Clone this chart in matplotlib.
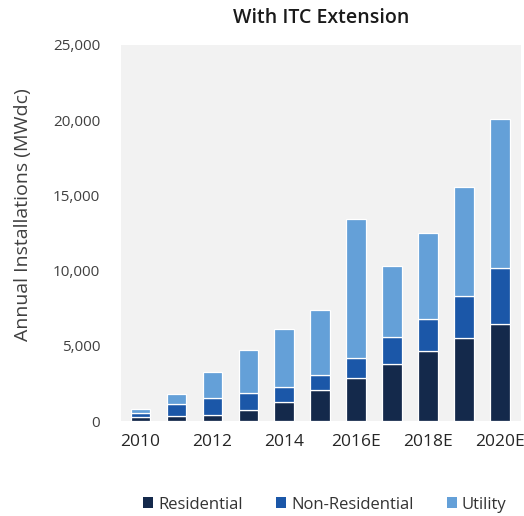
import matplotlib
matplotlib.use("Agg")
import matplotlib.pyplot as plt
from matplotlib.patches import Patch
from matplotlib.ticker import FuncFormatter
import numpy as np

years = ["2010", "2011", "2012", "2013", "2014", "2015",
         "2016E", "2017E", "2018E", "2019E", "2020E"]
residential = [290, 330, 400, 730, 1240, 2050, 2870, 3820, 4640, 5540, 6470]
non_residential = [260, 800, 1150, 1150, 1030, 1040, 1320, 1760, 2160, 2800, 3680]
utility = [250, 700, 1720, 2820, 3870, 4260, 9230, 4750, 5690, 7240, 9940]
series_names = ["Residential", "Non-Residential", "Utility"]
series_colors = ["#14294b", "#1b57a8", "#64a0d8"]
y_ticks = [0, 5000, 10000, 15000, 20000, 25000]

plt.rcParams["font.family"] = ["Open Sans", "DejaVu Sans"]

fig = plt.figure(figsize=(5.24, 5.16), dpi=100)
ax = fig.add_axes([0.2309, 0.184, 0.763, 0.729])
ax.set_facecolor("#f2f2f2")

x = np.arange(len(years))
bottom = np.zeros(len(years))
for vals, name, col in zip([residential, non_residential, utility], series_names, series_colors):
    ax.bar(x, vals, width=0.54, bottom=bottom, color=col, edgecolor="white",
           linewidth=0.9, label=name, zorder=2)
    bottom += np.array(vals)

ax.set_xlim(-0.536, 10.575)
ax.set_ylim(0, 25000)
ax.set_yticks(y_ticks)
ax.yaxis.set_major_formatter(FuncFormatter(lambda v, p: f"{int(v):,}"))
ax.set_xticks(x[::2])
ax.set_xticklabels(years[::2])
ax.tick_params(axis="y", length=0, pad=15, labelsize=11, labelcolor="#404040")
ax.tick_params(axis="x", length=0, pad=9, labelsize=12.5, labelcolor="#262626")
for s in ax.spines.values():
    s.set_visible(False)

fig.text(0.613, 0.965, "With ITC Extension", ha="center", va="center",
         fontsize=14, fontweight="semibold", color="#1a1a1a")
fig.text(0.044, 0.585, "Annual Installations (MWdc)", rotation=90,
         ha="center", va="center", fontsize=14, color="#404040")

handles = [Patch(facecolor=c, edgecolor="none") for c in series_colors]
fig.legend(handles, series_names, loc="center", bbox_to_anchor=(0.62, 0.022),
           ncol=3, frameon=False, fontsize=12, handlelength=0.6, handleheight=0.6,
           handletextpad=0.3, columnspacing=2.0, labelcolor="#333333")

fig.savefig("out.png", dpi=100, facecolor="white")
